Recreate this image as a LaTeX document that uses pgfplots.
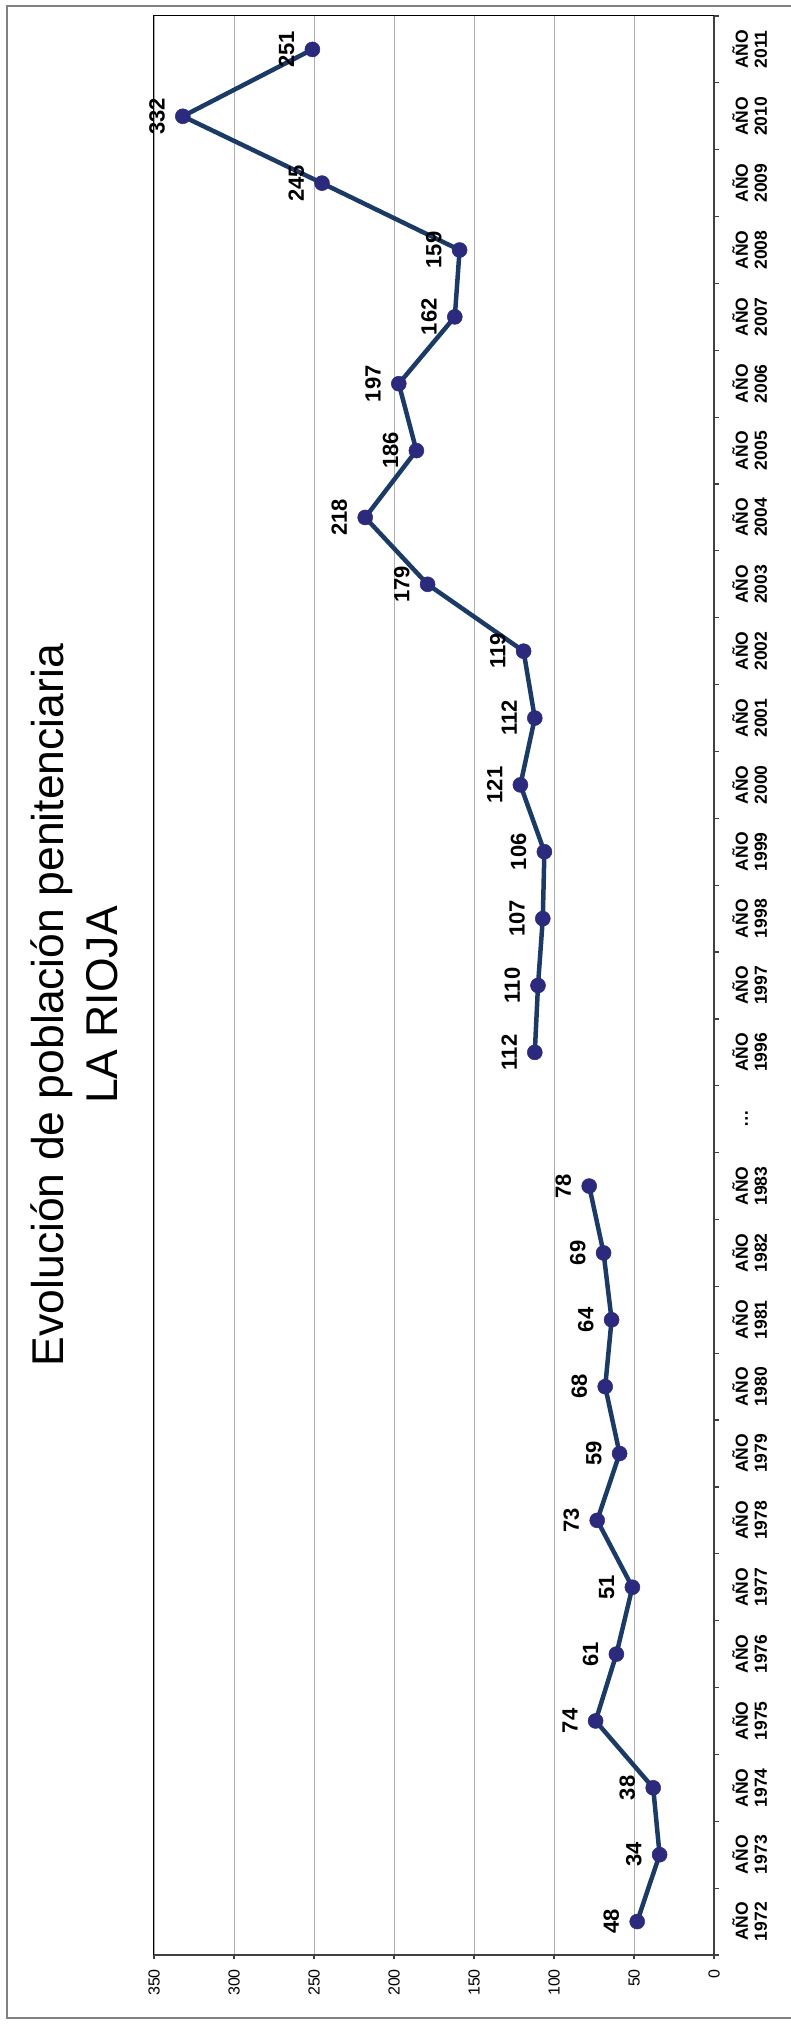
\documentclass[border=0pt]{standalone}
\usepackage{fontspec}
\setmainfont{Liberation Sans}
\usepackage{pgfplots}
\pgfplotsset{compat=1.18}
\usepackage{pgfplotstable}
\definecolor{linec}{RGB}{27,58,102}
\definecolor{markc}{RGB}{43,42,125}
\definecolor{framegray}{RGB}{128,128,128}
\definecolor{axisgray}{RGB}{64,64,64}
\pgfplotsset{/pgf/number format/assume math mode=true}
\newcommand{\gapdots}{\vphantom{AÑO}\ldots}
\pgfplotsset{
  prisonline/.style={
    draw=linec, line width=4.5pt, mark=*, mark size=7.5pt,
    mark options={fill=markc, draw=markc, line width=0.5pt, solid},
    point meta=x,
    nodes near coords,
    nodes near coords style={font=\fontsize{22}{26}\selectfont\bfseries, text=black, rotate=90, anchor=south, inner sep=0pt, outer xsep=0pt, outer ysep=18pt},
  },
}
\pgfplotstableread{
idx val
0 48
1 34
2 38
3 74
4 61
5 51
6 73
7 59
8 68
9 64
10 69
11 78
}\earlydata
\pgfplotstableread{
idx val
13 112
14 110
15 107
16 106
17 121
18 112
19 119
20 179
21 218
22 186
23 197
24 162
25 159
26 245
27 332
28 251
}\latedata
\begin{document}
\begin{tikzpicture}
\useasboundingbox (0pt,0pt) rectangle (791pt,2024pt);
\draw[line width=2pt, framegray] (795pt,6pt) -- (7pt,6pt) -- (7pt,2018pt) -- (795pt,2018pt);
\node[rotate=90, anchor=base, inner sep=0pt, font=\fontsize{44.5}{54}\selectfont] at (63pt,1019pt) {Evolución de población penitenciaria};
\node[rotate=90, anchor=base, inner sep=0pt, font=\fontsize{44.5}{54}\selectfont] at (117pt,1019pt) {LA RIOJA};
\begin{axis}[
  at={(434pt,1038.5pt)}, anchor=center,
  scale only axis, width=560pt, height=1939pt,
  clip=false,
  x dir=reverse,
  xmin=0, xmax=350, ymin=-0.5, ymax=28.5,
  xtick={0,50,100,150,200,250,300,350},
  xtick pos=left,
  ytick={0,1,2,3,4,5,6,7,8,9,10,11,12,13,14,15,16,17,18,19,20,21,22,23,24,25,26,27,28},
  ytick pos=right,
  yticklabel pos=right,
  minor ytick={-0.5,0.5,1.5,2.5,3.5,4.5,5.5,6.5,7.5,8.5,9.5,10.5,11.5,12.5,13.5,14.5,15.5,16.5,17.5,18.5,19.5,20.5,21.5,22.5,23.5,24.5,25.5,26.5,27.5,28.5},
  major y tick style={draw=none},
  minor y tick style={draw=axisgray, line width=1.2pt},
  major x tick style={draw=axisgray, line width=1.2pt},
  tick align=outside,
  major tick length=4pt,
  minor tick length=5pt,
  xmajorgrids=true, ymajorgrids=false,
  grid style={draw=gray!65, line width=0.9pt},
  axis line style={black, line width=1pt},
  xticklabel style={rotate=90, anchor=east, inner sep=0pt, font=\fontsize{16}{18}\selectfont},
  xticklabel shift=10pt,
  yticklabel style={rotate=90, anchor=north, inner sep=0pt, align=center, font=\fontsize{17.5}{19}\selectfont\bfseries},
  yticklabel shift=14pt,
  yticklabels={{AÑO\\1972},{AÑO\\1973},{AÑO\\1974},{AÑO\\1975},{AÑO\\1976},{AÑO\\1977},{AÑO\\1978},{AÑO\\1979},{AÑO\\1980},{AÑO\\1981},{AÑO\\1982},{AÑO\\1983},{\gapdots\\\vphantom{1}},{AÑO\\1996},{AÑO\\1997},{AÑO\\1998},{AÑO\\1999},{AÑO\\2000},{AÑO\\2001},{AÑO\\2002},{AÑO\\2003},{AÑO\\2004},{AÑO\\2005},{AÑO\\2006},{AÑO\\2007},{AÑO\\2008},{AÑO\\2009},{AÑO\\2010},{AÑO\\2011}},
]
\addplot[prisonline] table[x=val, y=idx] {\earlydata};
\addplot[prisonline] table[x=val, y=idx] {\latedata};
\draw[line width=2pt, axisgray] (axis cs:0,-0.5) -- (axis cs:0,28.5);
\draw[line width=2pt, axisgray] (axis cs:0,-0.5) -- (axis cs:350,-0.5);
\end{axis}
\end{tikzpicture}
\end{document}
